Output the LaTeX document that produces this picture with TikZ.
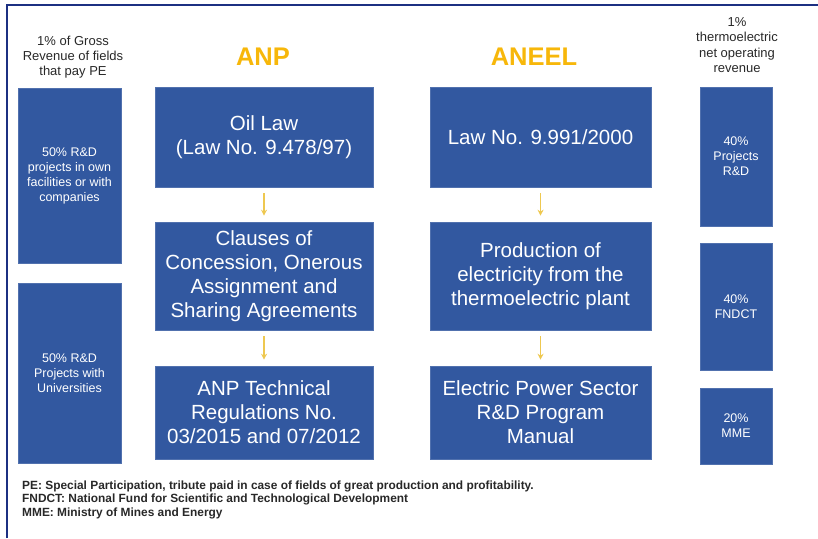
\documentclass[tikz,border=0pt]{standalone}
\usepackage{fontspec}
\setmainfont{Liberation Sans}
\usetikzlibrary{arrows.meta}
\definecolor{boxblue}{RGB}{50,88,160}
\definecolor{frameblue}{RGB}{28,48,130}
\definecolor{titleyellow}{RGB}{247,183,10}
\definecolor{arrowyellow}{RGB}{238,200,80}
\definecolor{txtgray}{RGB}{40,40,40}
\begin{document}
\begin{tikzpicture}[x=1pt,y=-1pt,
  bluebox/.style={fill=boxblue, draw=boxblue!85!white, line width=0.6pt, text=white, align=center, inner sep=0pt, anchor=center},
  bigbox/.style={bluebox, minimum width=218pt, font=\fontsize{20.5}{24}\selectfont},
  smallbox/.style={bluebox, font=\fontsize{12.5}{15}\selectfont},
  header/.style={text=txtgray, align=center, font=\fontsize{13}{15}\selectfont, inner sep=0pt},
  title/.style={text=titleyellow, font=\fontsize{25.5}{28}\selectfont\bfseries, inner sep=0pt},
  note/.style={anchor=base west, inner sep=0pt, text=txtgray, font=\fontsize{11.9}{13.5}\selectfont\bfseries},
  yarrow/.style={draw=arrowyellow, line width=1.2pt, -{Stealth[length=6pt,width=6pt]}, shorten <=6pt, shorten >=6pt}
]
\useasboundingbox (0,0) rectangle (818,538);
% frame
\draw[frameblue, line width=2pt] (7,538) -- (7,5) -- (818,5);

% left column
\node[header] (lh) at (73,57) {1\% of Gross\\Revenue of fields\\that pay PE};
\node[smallbox, minimum width=103pt, minimum height=175pt] (l1) at (69.5,175.5) {50\% R\&D\\projects in own\\facilities or with\\companies};
\node[smallbox, minimum width=103pt, minimum height=180pt] (l2) at (69.5,373) {50\% R\&D\\Projects with\\Universities};

% ANP column
\node[title] (anp) at (263,57) {ANP};
\node[bigbox, minimum height=100pt] (o1) at (264,137) {Oil Law\\(Law No. 9.478/97)};
\node[bigbox, minimum height=108pt] (o2) at (264,276) {Clauses of\\Concession, Onerous\\Assignment and\\Sharing Agreements};
\node[bigbox, minimum height=93pt] (o3) at (264,412.5) {ANP Technical\\Regulations No.\\03/2015 and 07/2012};
\draw[yarrow] (o1.south) -- (o2.north);
\draw[yarrow] (o2.south) -- (o3.north);

% ANEEL column
\node[title] (aneel) at (534,57) {ANEEL};
\node[bigbox, minimum width=221pt, minimum height=100pt] (e1) at (540.5,137) {Law No. 9.991/2000};
\node[bigbox, minimum width=221pt, minimum height=108pt] (e2) at (540.5,276) {Production of\\electricity from the\\thermoelectric plant};
\node[bigbox, minimum width=221pt, minimum height=93pt] (e3) at (540.5,412.5) {Electric Power Sector\\R\&D Program\\Manual};
\draw[yarrow] (e1.south) -- (e2.north);
\draw[yarrow] (e2.south) -- (e3.north);

% right column
\node[header, font=\fontsize{13}{15.5}\selectfont] (rh) at (737,45) {1\%\\thermoelectric\\net operating\\revenue};
\node[smallbox, minimum width=72pt, minimum height=139pt] (r1) at (736,156.5) {40\%\\Projects\\R\&D};
\node[smallbox, minimum width=72pt, minimum height=127pt] (r2) at (736,306.5) {40\%\\FNDCT};
\node[smallbox, minimum width=72pt, minimum height=76pt] (r3) at (736,426) {20\%\\MME};

% footnotes
\node[note] (fn1) at (22,489) {PE: Special Participation, tribute paid in case of fields of great production and profitability.};
\node[note] (fn2) at (22,502.5) {FNDCT: National Fund for Scientific and Technological Development};
\node[note] (fn3) at (22,516) {MME: Ministry of Mines and Energy};
\end{tikzpicture}
\end{document}
